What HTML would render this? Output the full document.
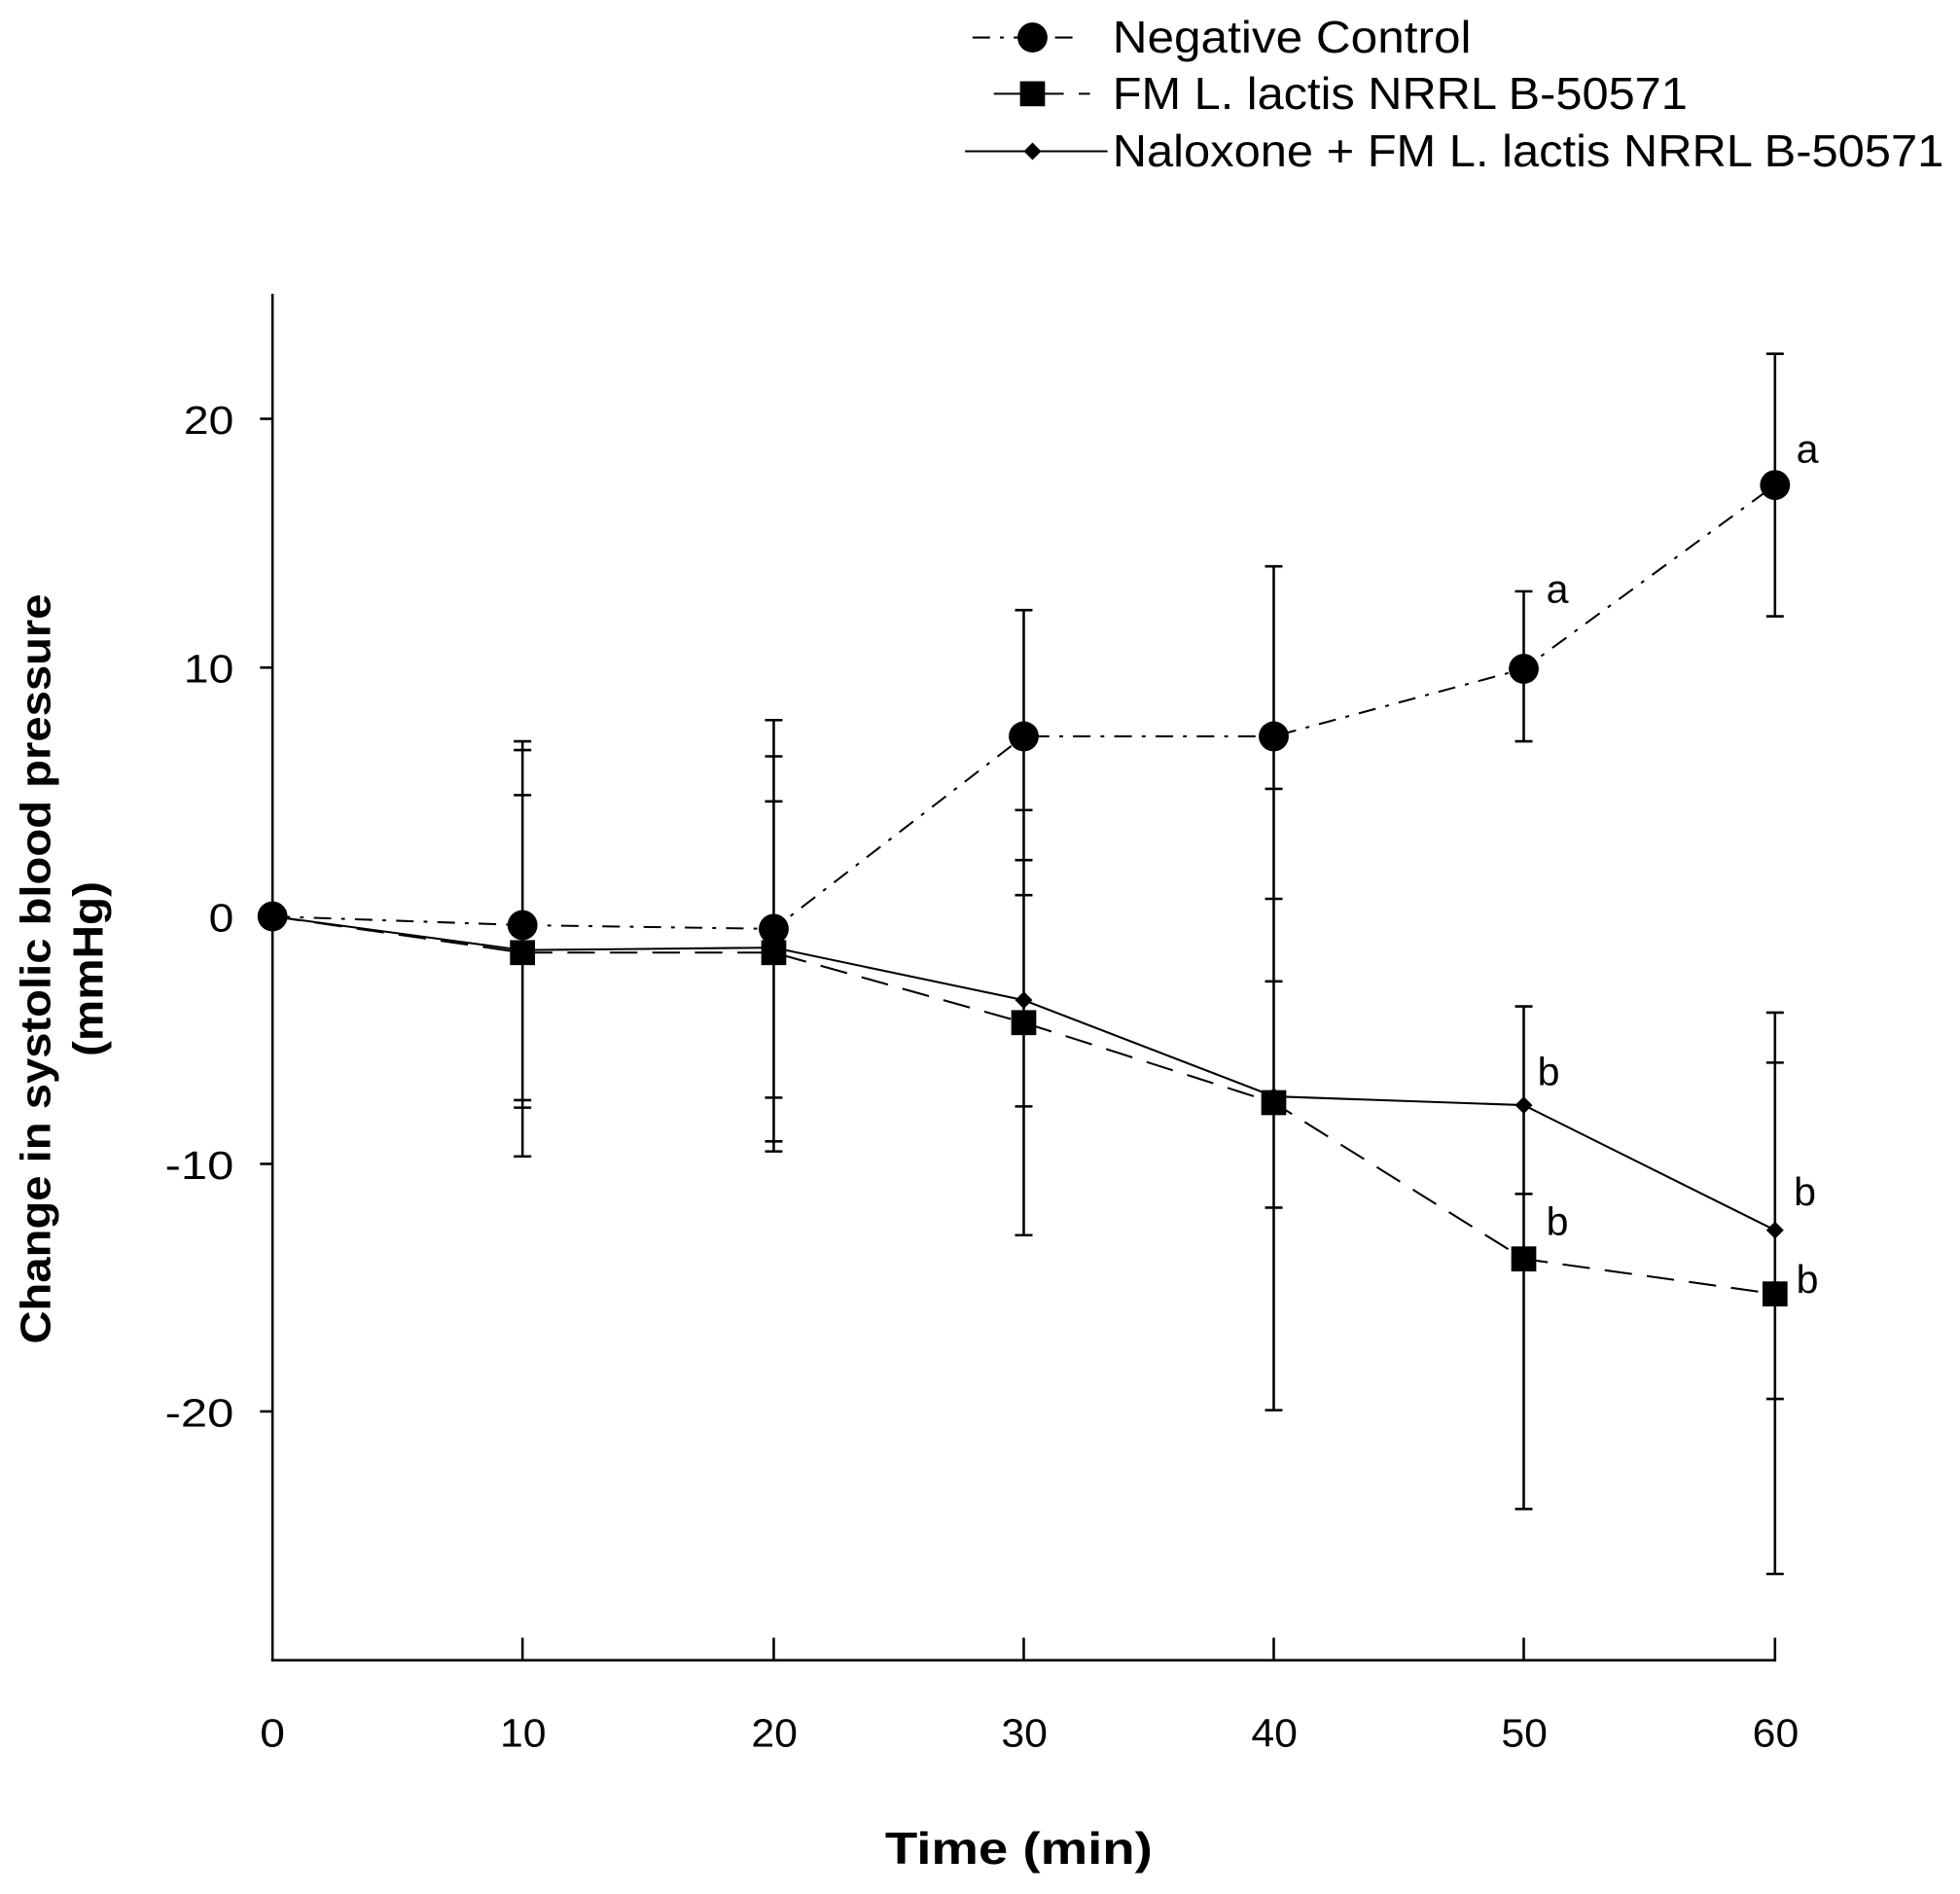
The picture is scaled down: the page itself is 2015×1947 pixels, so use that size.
<!DOCTYPE html>
<html><head><meta charset="utf-8"><style>html,body{margin:0;padding:0;background:#fff}svg{display:block}</style></head>
<body>
<svg width="2015" height="1947" viewBox="0 0 1568 1515" preserveAspectRatio="none" xmlns="http://www.w3.org/2000/svg" font-family="Liberation Sans, Arial, sans-serif">
<g stroke="#000" stroke-width="2" fill="none">
<line x1="218" y1="235" x2="218" y2="1329"/>
<line x1="217" y1="1328" x2="1421" y2="1328"/>
<line x1="208" y1="335" x2="218" y2="335"/><line x1="208" y1="534" x2="218" y2="534"/><line x1="208" y1="733" x2="218" y2="733"/><line x1="208" y1="931" x2="218" y2="931"/><line x1="208" y1="1129" x2="218" y2="1129"/>
<line x1="418" y1="1310" x2="418" y2="1328"/><line x1="619" y1="1310" x2="619" y2="1328"/><line x1="819" y1="1310" x2="819" y2="1328"/><line x1="1019" y1="1310" x2="1019" y2="1328"/><line x1="1219" y1="1310" x2="1219" y2="1328"/><line x1="1420" y1="1310" x2="1420" y2="1328"/>
<line x1="418" y1="593" x2="418" y2="925"/><line x1="619" y1="576" x2="619" y2="921"/><line x1="819" y1="488" x2="819" y2="988"/><line x1="1019" y1="453" x2="1019" y2="1128"/><line x1="1219" y1="473" x2="1219" y2="593"/><line x1="1219" y1="805" x2="1219" y2="1207"/><line x1="1420" y1="283" x2="1420" y2="493"/><line x1="1420" y1="810" x2="1420" y2="1259"/>
<path d="M411 593h14M411 600h14M411 636h14M411 880h14M411 886h14M411 925h14
M612 576h14M612 605h14M612 641h14M612 878h14M612 913h14M612 921h14
M812 488h14M812 648h14M812 688h14M812 716h14M812 885h14M812 988h14
M1012 453h14M1012 631h14M1012 719h14M1012 785h14M1012 966h14M1012 1128h14
M1212 473h14M1212 593h14M1212 805h14M1212 955h14M1212 1207h14
M1413 283h14M1413 493h14M1413 810h14M1413 850h14M1413 1119h14M1413 1259h14"/>
<polyline stroke-width="1.6" stroke-dasharray="14,8,3,8" points="218,733 418,740 619,743 819,589 1019,589 1219,535 1420,388"/>
<polyline stroke-width="1.6" stroke-dasharray="22,12" points="218,733 418,762 619,762 819,818 1019,882 1219,1007 1420,1035"/>
<polyline stroke-width="1.6" points="218,733 418,760 619,758 819,800 1019,877 1219,884 1420,984"/>
<line x1="778" y1="30" x2="862" y2="30" stroke-width="1.6" stroke-dasharray="14,8,3,8"/>
<line x1="795" y1="75" x2="872" y2="75" stroke-width="1.6" stroke-dasharray="22,12"/>
<line x1="772" y1="121" x2="886" y2="121" stroke-width="1.6"/>
</g>
<g fill="#000">
<circle cx="218" cy="733" r="12"/><circle cx="418" cy="740" r="12"/><circle cx="619" cy="743" r="12"/><circle cx="819" cy="589" r="12"/><circle cx="1019" cy="589" r="12"/><circle cx="1219" cy="535" r="12"/><circle cx="1420" cy="388" r="12"/>
<rect x="408" y="752" width="20" height="20"/><rect x="609" y="752" width="20" height="20"/><rect x="809" y="808" width="20" height="20"/><rect x="1009" y="872" width="20" height="20"/><rect x="1209" y="997" width="20" height="20"/><rect x="1410" y="1025" width="20" height="20"/>
<path d="M819 793l7 7-7 7-7-7zM1019 870l7 7-7 7-7-7zM1219 877l7 7-7 7-7-7zM1420 977l7 7-7 7-7-7zM418 753l7 7-7 7-7-7zM619 751l7 7-7 7-7-7z"/>
<circle cx="826" cy="30" r="12"/><rect x="816" y="65" width="20" height="20"/><path d="M826 114l7 7-7 7-7-7z"/>
</g>
<g font-size="32" fill="#000">
<text x="147" y="347" textLength="40" lengthAdjust="spacingAndGlyphs">20</text><text x="147" y="546" textLength="40" lengthAdjust="spacingAndGlyphs">10</text><text x="167" y="745" textLength="20" lengthAdjust="spacingAndGlyphs">0</text><text x="132" y="943" textLength="55" lengthAdjust="spacingAndGlyphs">-10</text><text x="132" y="1141" textLength="55" lengthAdjust="spacingAndGlyphs">-20</text>
<text x="208" y="1397" textLength="20" lengthAdjust="spacingAndGlyphs">0</text>
<text x="400" y="1397" textLength="37" lengthAdjust="spacingAndGlyphs">10</text><text x="601" y="1397" textLength="37" lengthAdjust="spacingAndGlyphs">20</text><text x="801" y="1397" textLength="37" lengthAdjust="spacingAndGlyphs">30</text><text x="1001" y="1397" textLength="37" lengthAdjust="spacingAndGlyphs">40</text><text x="1201" y="1397" textLength="37" lengthAdjust="spacingAndGlyphs">50</text><text x="1402" y="1397" textLength="37" lengthAdjust="spacingAndGlyphs">60</text>
<text x="1237" y="482">a</text><text x="1437" y="370">a</text><text x="1230" y="868">b</text><text x="1237" y="988">b</text><text x="1435" y="964">b</text><text x="1437" y="1034">b</text>
</g>
<g font-size="36" fill="#000">
<text x="890" y="42" textLength="287" lengthAdjust="spacingAndGlyphs">Negative Control</text>
<text x="890" y="87" textLength="460" lengthAdjust="spacingAndGlyphs">FM L. lactis NRRL B-50571</text>
<text x="890" y="133" textLength="665" lengthAdjust="spacingAndGlyphs">Naloxone + FM L. lactis NRRL B-50571</text>
</g>
<text x="708" y="1491" font-size="36" font-weight="bold" textLength="214" lengthAdjust="spacingAndGlyphs">Time (min)</text>
<g font-size="34" font-weight="bold">
<text transform="translate(40,1075) rotate(-90)" textLength="600" lengthAdjust="spacingAndGlyphs">Change in systolic blood pressure</text>
<text transform="translate(82,845) rotate(-90)" textLength="140" lengthAdjust="spacingAndGlyphs">(mmHg)</text>
</g>
</svg>
</body></html>
